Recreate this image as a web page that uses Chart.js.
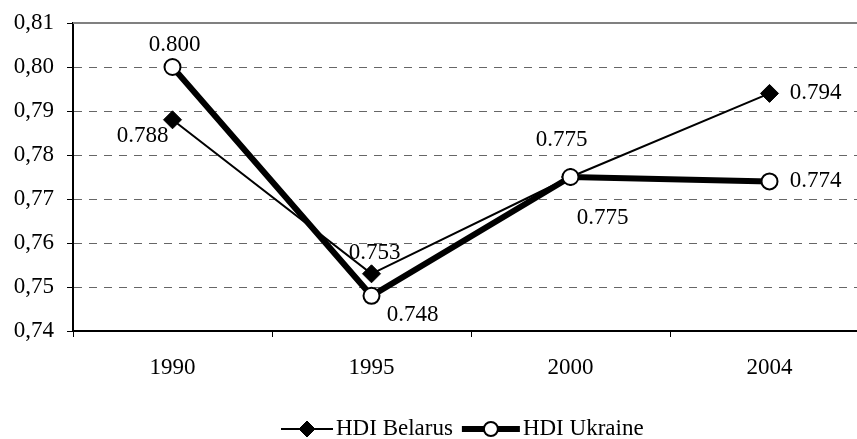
<!DOCTYPE html>
<html>
<head>
<meta charset="utf-8">
<script src="https://cdn.jsdelivr.net/npm/chart.js@4.4.1/dist/chart.umd.min.js"></script>
<style>
  html, body { margin: 0; padding: 0; background: #fff; overflow: hidden; }
  #wrap { width: 879px; height: 439px; }
</style>
</head>
<body>
<div id="wrap"><canvas id="chart" width="879" height="439"></canvas></div>
<script>
// 年次カテゴリと各国の HDI 値
const years = ['1990', '1995', '2000', '2004'];
const hdiBelarus = [0.788, 0.753, 0.775, 0.794];
const hdiUkraine = [0.800, 0.748, 0.775, 0.774];
const yTicks = [0.74, 0.75, 0.76, 0.77, 0.78, 0.79, 0.80, 0.81];

// データラベルの表示位置（点からのずれ）
const belarusLabelOffsets = [[-30, 16], [3, -21], [-9, -37], [46, 0]];
const ukraineLabelOffsets = [[2, -22], [41, 19], [32, 41], [46, 0]];

const FONT = '"Liberation Serif", "Times New Roman", serif';
const FONT_SIZE = 23;

const valueLabels = {
  id: 'valueLabels',
  afterDatasetsDraw(chart) {
    const ctx = chart.ctx;
    ctx.save();
    ctx.font = `${FONT_SIZE}px ${FONT}`;
    ctx.fillStyle = '#000';
    ctx.textAlign = 'center';
    ctx.textBaseline = 'middle';
    chart.data.datasets.forEach((ds, di) => {
      const meta = chart.getDatasetMeta(di);
      meta.data.forEach((pt, i) => {
        const off = ds.labelOffsets[i];
        ctx.fillText(ds.data[i].toFixed(3), pt.x + off[0], pt.y + off[1]);
      });
    });
    ctx.restore();
  },
};

const frame = {
  id: 'frame',
  beforeDatasetsDraw(chart) {
    const { ctx, chartArea } = chart;
    ctx.save();
    ctx.strokeStyle = '#808080';
    ctx.lineWidth = 2;
    ctx.beginPath();
    ctx.moveTo(chartArea.left, chartArea.top);
    ctx.lineTo(chartArea.right, chartArea.top);
    ctx.stroke();
    ctx.restore();
  },
};

// 凡例は線＋マーカーの形で自前描画する
const customLegend = {
  id: 'customLegend',
  afterDraw(chart) {
    const ctx = chart.ctx;
    const y = 429;
    let x = 281;
    ctx.save();
    ctx.font = `${FONT_SIZE}px ${FONT}`;
    ctx.textBaseline = 'middle';
    chart.data.datasets.forEach((ds) => {
      const lineLen = ds.legendLine;
      const cx = x + lineLen / 2;
      const r = ds.legendRadius;
      ctx.strokeStyle = '#000';
      ctx.lineWidth = ds.borderWidth;
      ctx.beginPath();
      ctx.moveTo(x, y);
      ctx.lineTo(x + lineLen, y);
      ctx.stroke();
      ctx.fillStyle = ds.pointBackgroundColor;
      ctx.lineWidth = ds.pointBorderWidth;
      ctx.beginPath();
      if (ds.pointStyle === 'circle') {
        ctx.arc(cx, y, r, 0, Math.PI * 2);
      } else {
        ctx.moveTo(cx - r, y);
        ctx.lineTo(cx, y - r);
        ctx.lineTo(cx + r, y);
        ctx.lineTo(cx, y + r);
        ctx.closePath();
      }
      ctx.fill();
      ctx.stroke();
      ctx.fillStyle = '#000';
      ctx.fillText(ds.label, x + lineLen + 3, y);
      x += lineLen + 3 + ctx.measureText(ds.label).width + 9;
    });
    ctx.restore();
  },
};

new Chart(document.getElementById('chart'), {
  type: 'line',
  data: {
    labels: years,
    datasets: [
      {
        label: 'HDI Belarus',
        data: hdiBelarus,
        labelOffsets: belarusLabelOffsets,
        legendLine: 52,
        legendRadius: 8,
        borderColor: '#000',
        borderWidth: 2,
        pointStyle: 'rectRot',
        pointRadius: 9,
        pointBackgroundColor: '#000',
        pointBorderColor: '#000',
        pointBorderWidth: 1,
        tension: 0,
        order: 1,
      },
      {
        label: 'HDI Ukraine',
        data: hdiUkraine,
        labelOffsets: ukraineLabelOffsets,
        legendLine: 58,
        legendRadius: 7,
        borderColor: '#000',
        borderWidth: 6,
        pointStyle: 'circle',
        pointRadius: 8,
        pointBackgroundColor: '#fff',
        pointBorderColor: '#000',
        pointBorderWidth: 2,
        tension: 0,
        order: 0,
      },
    ],
  },
  options: {
    responsive: false,
    animation: false,
    layout: { padding: { left: 0, right: 5, top: 23, bottom: 0 } },
    plugins: {
      legend: { display: false },
      tooltip: { enabled: false },
    },
    scales: {
      x: {
        offset: true,
        afterFit: (scale) => { scale.height = 108; },
        grid: {
          offset: true,
          drawOnChartArea: false,
          drawTicks: true,
          tickLength: 6,
          tickColor: '#000',
          tickWidth: 1,
        },
        border: { color: '#000', width: 2 },
        ticks: {
          color: '#000',
          padding: 17,
          font: { family: FONT, size: FONT_SIZE },
        },
      },
      y: {
        min: 0.74,
        max: 0.81,
        afterFit: (scale) => {
          scale.width = 73;
          scale.paddingTop = 0;
          scale.paddingBottom = 0;
        },
        afterBuildTicks: (scale) => { scale.ticks = yTicks.map((v) => ({ value: v })); },
        grid: {
          color: (c) => (c.tick && (Math.abs(c.tick.value - 0.74) < 1e-6 || Math.abs(c.tick.value - 0.81) < 1e-6) ? 'rgba(0,0,0,0)' : '#666'),
          lineWidth: 1,
          tickLength: 6,
          tickColor: '#000',
          tickWidth: 1,
        },
        border: { color: '#000', width: 2, dash: [8, 7] },
        ticks: {
          color: '#000',
          padding: 13,
          font: { family: FONT, size: FONT_SIZE },
          callback: (v) => Number(v).toFixed(2).replace('.', ','),
        },
      },
    },
  },
  plugins: [frame, valueLabels, customLegend],
});
</script>
</body>
</html>
